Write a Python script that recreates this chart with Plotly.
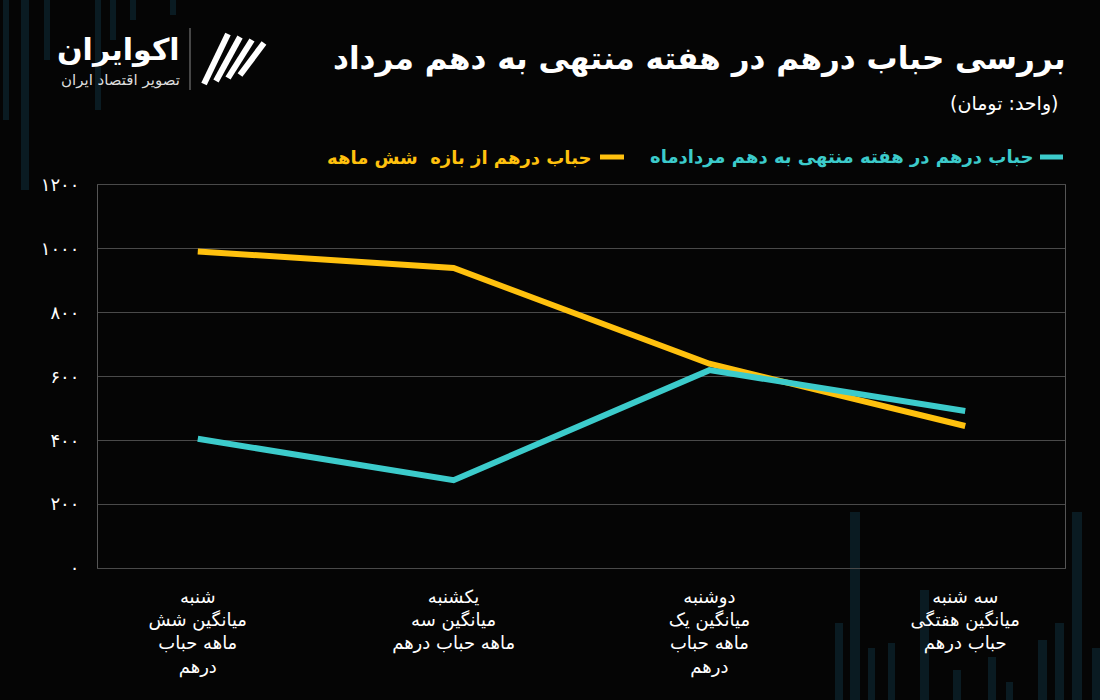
import plotly.graph_objects as go

categories = [
    "شنبه<br>میانگین شش<br>ماهه حباب<br>درهم",
    "یکشنبه<br>میانگین سه<br>ماهه حباب درهم",
    "دوشنبه<br>میانگین یک<br>ماهه حباب<br>درهم",
    "سه شنبه<br>میانگین هفتگی<br>حباب درهم",
]
weekly_bubble = [405, 275, 620, 492]
six_month_bubble = [992, 940, 640, 445]
series_names = ["حباب درهم در هفته منتهی به دهم مردادماه", "حباب درهم از بازه  شش ماهه"]
tick_vals = [0, 200, 400, 600, 800, 1000, 1200]
tick_text = ["۰", "۲۰۰", "۴۰۰", "۶۰۰", "۸۰۰", "۱۰۰۰", "۱۲۰۰"]

TEAL = "#3CCBCB"
YELLOW = "#FFC10E"
FONT = "DejaVu Sans"
BG = "#050505"

x_idx = list(range(len(categories)))

fig = go.Figure()
fig.add_trace(go.Scatter(x=x_idx, y=six_month_bubble, mode="lines", name=series_names[1],
                         line=dict(color=YELLOW, width=6), showlegend=False))
fig.add_trace(go.Scatter(x=x_idx, y=weekly_bubble, mode="lines", name=series_names[0],
                         line=dict(color=TEAL, width=6), showlegend=False))

fig.update_layout(
    width=1100, height=700,
    paper_bgcolor=BG, plot_bgcolor=BG,
    margin=dict(l=98, r=35, t=185, b=132),
    font=dict(family=FONT, color="white"),
    xaxis=dict(tickmode="array", tickvals=x_idx, ticktext=categories,
               range=[-0.39, 3.39], showgrid=False, zeroline=False, showline=True, mirror=True,
               linecolor="#4a4a4a", linewidth=1,
               tickfont=dict(size=18, color="white"), ticks="", ticklabelstandoff=12),
    yaxis=dict(tickmode="array", tickvals=tick_vals, ticktext=tick_text,
               range=[0, 1200], showgrid=True, gridcolor="#4a4a4a", gridwidth=1,
               zeroline=False, showline=True, mirror=True, linecolor="#555555", linewidth=1,
               tickfont=dict(size=18, color="white"), ticks="", ticklabelstandoff=14),
)


def px(xp):
    return (xp - 98) / 967


def py(yp):
    return (568 - yp) / 383


DECO = "#0a1b22"
# decorative faint bars in background (screen coords): bottom-right, rising from the bottom
deco_bottom = [(835, 623, 8), (850, 512, 10), (868, 648, 7), (888, 643, 7), (920, 590, 9), (953, 670, 8),
               (988, 657, 8), (1006, 682, 7), (1038, 640, 9), (1055, 623, 9), (1072, 512, 10), (1092, 648, 8)]
for x0, y0, w in deco_bottom:
    fig.add_shape(type="rect", xref="paper", yref="paper",
                  x0=px(x0), x1=px(x0 + w), y0=py(710), y1=py(y0),
                  fillcolor=DECO, line_width=0, layer="below")
# top-left bars hanging from the top
for x0, y1, w in [(3, 120, 6), (21, 190, 8), (44, 60, 6), (95, 110, 6), (110, 40, 6), (130, 20, 6), (170, 15, 6)]:
    fig.add_shape(type="rect", xref="paper", yref="paper",
                  x0=px(x0), x1=px(x0 + w), y0=py(y1), y1=py(-10),
                  fillcolor=DECO, line_width=0, layer="below")

# Title
fig.add_annotation(text="<b>بررسی حباب درهم در هفته منتهی به دهم مرداد</b>", xref="paper", yref="paper",
                   x=px(1068), y=py(58), xanchor="right", yanchor="middle", showarrow=False,
                   font=dict(size=31, color="white", family=FONT))
fig.add_annotation(text="(واحد: تومان)", xref="paper", yref="paper",
                   x=px(1060), y=py(104), xanchor="right", yanchor="middle", showarrow=False,
                   font=dict(size=19, color="white", family=FONT))

# Legend built manually (RTL)
fig.add_shape(type="line", xref="paper", yref="paper", x0=px(1040), x1=px(1063), y0=py(157), y1=py(157),
              line=dict(color=TEAL, width=5))
fig.add_annotation(text="<b>" + series_names[0] + "</b>", xref="paper", yref="paper",
                   x=px(1035), y=py(157), xanchor="right", yanchor="middle", showarrow=False,
                   font=dict(size=18, color=TEAL, family=FONT))
fig.add_shape(type="line", xref="paper", yref="paper", x0=px(600), x1=px(624), y0=py(157), y1=py(157),
              line=dict(color=YELLOW, width=5))
fig.add_annotation(text="<b>" + series_names[1] + "</b>", xref="paper", yref="paper",
                   x=px(593), y=py(157), xanchor="right", yanchor="middle", showarrow=False,
                   font=dict(size=18, color=YELLOW, family=FONT))

# Logo
fig.add_annotation(text="<b>اکوایران</b>", xref="paper", yref="paper",
                   x=px(182), y=py(50), xanchor="right", yanchor="middle", showarrow=False,
                   font=dict(size=30, color="white", family=FONT))
fig.add_annotation(text="تصویر اقتصاد ایران", xref="paper", yref="paper",
                   x=px(182), y=py(80), xanchor="right", yanchor="middle", showarrow=False,
                   font=dict(size=15, color="#dddddd", family=FONT))
fig.add_shape(type="line", xref="paper", yref="paper", x0=px(190), x1=px(190), y0=py(28), y1=py(90),
              line=dict(color="#888888", width=1))
for k in range(4):
    fig.add_shape(type="line", xref="paper", yref="paper",
                  x0=px(204 + k * 12), x1=px(228 + k * 12), y0=py(84 - k * 3), y1=py(34 + k * 3),
                  line=dict(color="white", width=6))

fig.write_html(
    "out.html",
    config={"displayModeBar": False},
    post_script="document.body.style.margin='0';document.body.style.background='" + BG + "';"
                "document.body.style.overflow='hidden';",
)
